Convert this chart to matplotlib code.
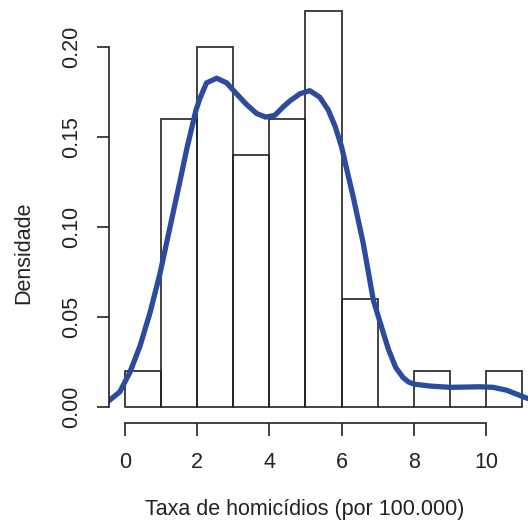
import matplotlib
matplotlib.use("Agg")
import matplotlib.pyplot as plt

plt.rcParams['font.family'] = ['Liberation Sans', 'DejaVu Sans']

# histogram: bin edges and densities (R hist, freq=FALSE)
bin_left = [0, 1, 2, 3, 4, 5, 6, 7, 8, 9, 10]
densities = [0.02, 0.16, 0.20, 0.14, 0.16, 0.22, 0.06, 0.00, 0.02, 0.00, 0.02]

# kernel density curve
kde_x = [-0.50, -0.42, -0.14, 0.14, 0.42, 0.69, 0.97, 1.25, 1.52, 1.71, 1.97,
         2.08, 2.26, 2.54, 2.82, 3.09, 3.37, 3.65, 3.90, 4.15, 4.40, 4.57,
         4.85, 5.12, 5.40, 5.63, 5.82, 6.00, 6.19, 6.32, 6.60, 6.88, 7.16,
         7.30, 7.50, 7.70, 7.85, 8.00, 8.45, 9.00, 9.83, 10.20, 10.57, 11.13, 11.50]
kde_y = [0.003, 0.0039, 0.0085, 0.0194, 0.034, 0.052, 0.074, 0.100, 0.125, 0.143, 0.165,
         0.1715, 0.180, 0.1826, 0.180, 0.174, 0.168, 0.163, 0.161, 0.162, 0.167, 0.170,
         0.174, 0.1757, 0.172, 0.165, 0.156, 0.1446, 0.128, 0.117, 0.091, 0.0594, 0.041,
         0.032, 0.022, 0.0165, 0.0140, 0.0128, 0.0117, 0.011, 0.0113, 0.011, 0.0094, 0.005, 0.003]

x_ticks = [0, 2, 4, 6, 8, 10]
y_ticks = [0.00, 0.05, 0.10, 0.15, 0.20]
y_ticklabels = ["0.00", "0.05", "0.10", "0.15", "0.20"]

W, H = 528, 522
fig = plt.figure(figsize=(W / 100, H / 100), dpi=100)
fig.patch.set_facecolor('white')

# plot region in pixels (R style, partly cropped off the image)
left_px, right_px, top_px, bottom_px = 109, 538, -5, 423
ax = fig.add_axes([left_px / W, 1 - bottom_px / H,
                   (right_px - left_px) / W, (bottom_px - top_px) / H])
ax.set_xlim(-0.44, 11.44)
ax.set_ylim(-0.0088, 0.2288)

ax.bar(bin_left, densities, width=1, align='edge', fill=False,
       edgecolor='#222222', linewidth=1.2)
ax.plot(kde_x, kde_y, color='#2B4B9E', linewidth=3.8,
        solid_capstyle='round', solid_joinstyle='round')

for s in ['top', 'right']:
    ax.spines[s].set_visible(False)
ax.spines['left'].set_bounds(0, 0.20)
ax.spines['bottom'].set_bounds(0, 10)
for s in ['left', 'bottom']:
    ax.spines[s].set_linewidth(1.2)
    ax.spines[s].set_color('#222222')

ax.set_xticks(x_ticks)
ax.set_yticks(y_ticks)
ax.set_yticklabels(y_ticklabels, rotation=90, va='center')
ax.tick_params(axis='both', direction='out', length=9, width=1.2,
               color='#222222', labelsize=15.5, labelcolor='#222222')
ax.tick_params(axis='x', pad=12)
ax.tick_params(axis='y', pad=10)

fig.text(305 / W, 1 - 510 / H, "Taxa de homicídios (por 100.000)",
         ha='center', va='center', fontsize=15.5, color='#222222')
fig.text(24 / W, 1 - 253 / H, "Densidade", rotation=90,
         ha='center', va='center', fontsize=15.5, color='#222222')

fig.savefig("out.png", dpi=100, facecolor='white')
